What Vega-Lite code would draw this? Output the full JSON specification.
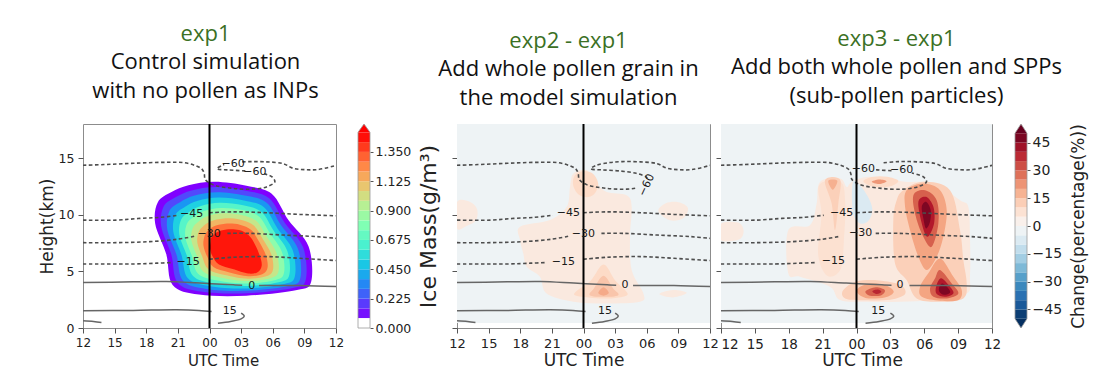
{
"$schema":"https://vega.github.io/schema/vega-lite/v6.json",
"background":"white",
"padding":{"left":37,"top":22,"right":5,"bottom":5},
"spacing":11,
"bounds":"flush",
"resolve":{"scale":{"color":"independent"}},
"config":{
 "view":{"stroke":"#8c8c8c","strokeWidth":1},
 "axis":{"domain":false,"grid":false,"tickColor":"#555","tickSize":5,"tickWidth":1,"labelColor":"#222","titleColor":"#222","labelFont":"DejaVu Sans","titleFont":"DejaVu Sans","titleFontWeight":"normal","labelPadding":4,"labelOverlap":false,"labelFlush":false},
 "title":{"font":"Open Sans","fontSize":22,"fontWeight":"normal","color":"#3b7024","subtitleFont":"Open Sans","subtitleFontSize":22,"subtitleColor":"#111","subtitleLineHeight":29,"subtitlePadding":6,"anchor":"middle"}
},
"datasets":{
"fill":[
{"p":"p1","g":"1a","o":1,"t":8.4,"h":12.0,"v":0.06},{"p":"p1","g":"1a","o":2,"t":10.0,"h":12.6,"v":0.06},{"p":"p1","g":"1a","o":3,"t":12.5,"h":12.9,"v":0.06},{"p":"p1","g":"1a","o":4,"t":15.5,"h":12.55,"v":0.06},{"p":"p1","g":"1a","o":5,"t":17.9,"h":11.85,"v":0.06},{"p":"p1","g":"1a","o":6,"t":19.5,"h":9.5,"v":0.06},{"p":"p1","g":"1a","o":7,"t":21.4,"h":7.2,"v":0.06},{"p":"p1","g":"1a","o":8,"t":21.65,"h":4.1,"v":0.06},{"p":"p1","g":"1a","o":9,"t":20.3,"h":3.35,"v":0.06},{"p":"p1","g":"1a","o":10,"t":15.5,"h":2.85,"v":0.06},{"p":"p1","g":"1a","o":11,"t":11.0,"h":2.95,"v":0.06},{"p":"p1","g":"1a","o":12,"t":8.5,"h":3.8,"v":0.06},{"p":"p1","g":"1a","o":13,"t":7.9,"h":6.5,"v":0.06},{"p":"p1","g":"1a","o":14,"t":6.85,"h":9.2,"v":0.06},{"p":"p1","g":"1a","o":15,"t":7.1,"h":11.1,"v":0.06},
{"p":"p1","g":"1b","o":1,"t":8.82,"h":11.56,"v":0.213},{"p":"p1","g":"1b","o":2,"t":10.3,"h":12.14,"v":0.213},{"p":"p1","g":"1b","o":3,"t":12.62,"h":12.44,"v":0.213},{"p":"p1","g":"1b","o":4,"t":15.42,"h":12.12,"v":0.213},{"p":"p1","g":"1b","o":5,"t":17.66,"h":11.45,"v":0.213},{"p":"p1","g":"1b","o":6,"t":19.15,"h":9.27,"v":0.213},{"p":"p1","g":"1b","o":7,"t":20.89,"h":7.1,"v":0.213},{"p":"p1","g":"1b","o":8,"t":21.13,"h":4.25,"v":0.213},{"p":"p1","g":"1b","o":9,"t":19.89,"h":3.53,"v":0.213},{"p":"p1","g":"1b","o":10,"t":15.52,"h":3.07,"v":0.213},{"p":"p1","g":"1b","o":11,"t":11.35,"h":3.2,"v":0.213},{"p":"p1","g":"1b","o":12,"t":8.98,"h":4.0,"v":0.213},{"p":"p1","g":"1b","o":13,"t":8.38,"h":6.48,"v":0.213},{"p":"p1","g":"1b","o":14,"t":7.42,"h":8.96,"v":0.213},{"p":"p1","g":"1b","o":15,"t":7.65,"h":10.72,"v":0.213},
{"p":"p1","g":"1c","o":1,"t":9.24,"h":11.12,"v":0.366},{"p":"p1","g":"1c","o":2,"t":10.59,"h":11.69,"v":0.366},{"p":"p1","g":"1c","o":3,"t":12.74,"h":11.98,"v":0.366},{"p":"p1","g":"1c","o":4,"t":15.35,"h":11.69,"v":0.366},{"p":"p1","g":"1c","o":5,"t":17.42,"h":11.05,"v":0.366},{"p":"p1","g":"1c","o":6,"t":18.8,"h":9.04,"v":0.366},{"p":"p1","g":"1c","o":7,"t":20.39,"h":7.0,"v":0.366},{"p":"p1","g":"1c","o":8,"t":20.62,"h":4.41,"v":0.366},{"p":"p1","g":"1c","o":9,"t":19.49,"h":3.7,"v":0.366},{"p":"p1","g":"1c","o":10,"t":15.54,"h":3.28,"v":0.366},{"p":"p1","g":"1c","o":11,"t":11.7,"h":3.45,"v":0.366},{"p":"p1","g":"1c","o":12,"t":9.47,"h":4.2,"v":0.366},{"p":"p1","g":"1c","o":13,"t":8.87,"h":6.46,"v":0.366},{"p":"p1","g":"1c","o":14,"t":7.99,"h":8.72,"v":0.366},{"p":"p1","g":"1c","o":15,"t":8.2,"h":10.33,"v":0.366},
{"p":"p1","g":"1d","o":1,"t":9.65,"h":10.68,"v":0.519},{"p":"p1","g":"1d","o":2,"t":10.89,"h":11.23,"v":0.519},{"p":"p1","g":"1d","o":3,"t":12.86,"h":11.51,"v":0.519},{"p":"p1","g":"1d","o":4,"t":15.27,"h":11.26,"v":0.519},{"p":"p1","g":"1d","o":5,"t":17.17,"h":10.65,"v":0.519},{"p":"p1","g":"1d","o":6,"t":18.44,"h":8.81,"v":0.519},{"p":"p1","g":"1d","o":7,"t":19.88,"h":6.9,"v":0.519},{"p":"p1","g":"1d","o":8,"t":20.1,"h":4.56,"v":0.519},{"p":"p1","g":"1d","o":9,"t":19.08,"h":3.88,"v":0.519},{"p":"p1","g":"1d","o":10,"t":15.57,"h":3.49,"v":0.519},{"p":"p1","g":"1d","o":11,"t":12.06,"h":3.69,"v":0.519},{"p":"p1","g":"1d","o":12,"t":9.95,"h":4.39,"v":0.519},{"p":"p1","g":"1d","o":13,"t":9.35,"h":6.43,"v":0.519},{"p":"p1","g":"1d","o":14,"t":8.57,"h":8.47,"v":0.519},{"p":"p1","g":"1d","o":15,"t":8.75,"h":9.95,"v":0.519},
{"p":"p1","g":"1e","o":1,"t":10.07,"h":10.24,"v":0.672},{"p":"p1","g":"1e","o":2,"t":11.19,"h":10.77,"v":0.672},{"p":"p1","g":"1e","o":3,"t":12.98,"h":11.05,"v":0.672},{"p":"p1","g":"1e","o":4,"t":15.19,"h":10.83,"v":0.672},{"p":"p1","g":"1e","o":5,"t":16.93,"h":10.24,"v":0.672},{"p":"p1","g":"1e","o":6,"t":18.09,"h":8.58,"v":0.672},{"p":"p1","g":"1e","o":7,"t":19.38,"h":6.8,"v":0.672},{"p":"p1","g":"1e","o":8,"t":19.58,"h":4.72,"v":0.672},{"p":"p1","g":"1e","o":9,"t":18.67,"h":4.05,"v":0.672},{"p":"p1","g":"1e","o":10,"t":15.59,"h":3.71,"v":0.672},{"p":"p1","g":"1e","o":11,"t":12.41,"h":3.94,"v":0.672},{"p":"p1","g":"1e","o":12,"t":10.44,"h":4.59,"v":0.672},{"p":"p1","g":"1e","o":13,"t":9.84,"h":6.41,"v":0.672},{"p":"p1","g":"1e","o":14,"t":9.14,"h":8.23,"v":0.672},{"p":"p1","g":"1e","o":15,"t":9.3,"h":9.56,"v":0.672},
{"p":"p1","g":"1f","o":1,"t":10.49,"h":9.8,"v":0.825},{"p":"p1","g":"1f","o":2,"t":11.49,"h":10.32,"v":0.825},{"p":"p1","g":"1f","o":3,"t":13.11,"h":10.59,"v":0.825},{"p":"p1","g":"1f","o":4,"t":15.12,"h":10.41,"v":0.825},{"p":"p1","g":"1f","o":5,"t":16.69,"h":9.84,"v":0.825},{"p":"p1","g":"1f","o":6,"t":17.74,"h":8.35,"v":0.825},{"p":"p1","g":"1f","o":7,"t":18.87,"h":6.71,"v":0.825},{"p":"p1","g":"1f","o":8,"t":19.07,"h":4.87,"v":0.825},{"p":"p1","g":"1f","o":9,"t":18.27,"h":4.23,"v":0.825},{"p":"p1","g":"1f","o":10,"t":15.61,"h":3.92,"v":0.825},{"p":"p1","g":"1f","o":11,"t":12.76,"h":4.19,"v":0.825},{"p":"p1","g":"1f","o":12,"t":10.92,"h":4.79,"v":0.825},{"p":"p1","g":"1f","o":13,"t":10.32,"h":6.39,"v":0.825},{"p":"p1","g":"1f","o":14,"t":9.71,"h":7.99,"v":0.825},{"p":"p1","g":"1f","o":15,"t":9.85,"h":9.18,"v":0.825},
{"p":"p1","g":"1g","o":1,"t":10.91,"h":9.36,"v":0.977},{"p":"p1","g":"1g","o":2,"t":11.78,"h":9.86,"v":0.977},{"p":"p1","g":"1g","o":3,"t":13.23,"h":10.13,"v":0.977},{"p":"p1","g":"1g","o":4,"t":15.04,"h":9.98,"v":0.977},{"p":"p1","g":"1g","o":5,"t":16.45,"h":9.44,"v":0.977},{"p":"p1","g":"1g","o":6,"t":17.39,"h":8.11,"v":0.977},{"p":"p1","g":"1g","o":7,"t":18.36,"h":6.61,"v":0.977},{"p":"p1","g":"1g","o":8,"t":18.55,"h":5.02,"v":0.977},{"p":"p1","g":"1g","o":9,"t":17.86,"h":4.41,"v":0.977},{"p":"p1","g":"1g","o":10,"t":15.63,"h":4.14,"v":0.977},{"p":"p1","g":"1g","o":11,"t":13.11,"h":4.44,"v":0.977},{"p":"p1","g":"1g","o":12,"t":11.4,"h":4.99,"v":0.977},{"p":"p1","g":"1g","o":13,"t":10.8,"h":6.37,"v":0.977},{"p":"p1","g":"1g","o":14,"t":10.28,"h":7.75,"v":0.977},{"p":"p1","g":"1g","o":15,"t":10.4,"h":8.79,"v":0.977},
{"p":"p1","g":"1h","o":1,"t":11.33,"h":8.92,"v":1.13},{"p":"p1","g":"1h","o":2,"t":12.08,"h":9.4,"v":1.13},{"p":"p1","g":"1h","o":3,"t":13.35,"h":9.67,"v":1.13},{"p":"p1","g":"1h","o":4,"t":14.96,"h":9.55,"v":1.13},{"p":"p1","g":"1h","o":5,"t":16.21,"h":9.04,"v":1.13},{"p":"p1","g":"1h","o":6,"t":17.04,"h":7.88,"v":1.13},{"p":"p1","g":"1h","o":7,"t":17.86,"h":6.51,"v":1.13},{"p":"p1","g":"1h","o":8,"t":18.03,"h":5.18,"v":1.13},{"p":"p1","g":"1h","o":9,"t":17.45,"h":4.58,"v":1.13},{"p":"p1","g":"1h","o":10,"t":15.65,"h":4.35,"v":1.13},{"p":"p1","g":"1h","o":11,"t":13.46,"h":4.68,"v":1.13},{"p":"p1","g":"1h","o":12,"t":11.89,"h":5.19,"v":1.13},{"p":"p1","g":"1h","o":13,"t":11.29,"h":6.35,"v":1.13},{"p":"p1","g":"1h","o":14,"t":10.85,"h":7.51,"v":1.13},{"p":"p1","g":"1h","o":15,"t":10.95,"h":8.41,"v":1.13},
{"p":"p1","g":"1i","o":1,"t":11.74,"h":8.48,"v":1.283},{"p":"p1","g":"1i","o":2,"t":12.38,"h":8.95,"v":1.283},{"p":"p1","g":"1i","o":3,"t":13.47,"h":9.2,"v":1.283},{"p":"p1","g":"1i","o":4,"t":14.88,"h":9.12,"v":1.283},{"p":"p1","g":"1i","o":5,"t":15.96,"h":8.64,"v":1.283},{"p":"p1","g":"1i","o":6,"t":16.68,"h":7.65,"v":1.283},{"p":"p1","g":"1i","o":7,"t":17.35,"h":6.41,"v":1.283},{"p":"p1","g":"1i","o":8,"t":17.51,"h":5.33,"v":1.283},{"p":"p1","g":"1i","o":9,"t":17.04,"h":4.76,"v":1.283},{"p":"p1","g":"1i","o":10,"t":15.68,"h":4.57,"v":1.283},{"p":"p1","g":"1i","o":11,"t":13.82,"h":4.93,"v":1.283},{"p":"p1","g":"1i","o":12,"t":12.37,"h":5.38,"v":1.283},{"p":"p1","g":"1i","o":13,"t":11.77,"h":6.32,"v":1.283},{"p":"p1","g":"1i","o":14,"t":11.43,"h":7.26,"v":1.283},{"p":"p1","g":"1i","o":15,"t":11.5,"h":8.02,"v":1.283},
{"p":"p1","g":"1j","o":1,"t":12.2,"h":8.0,"v":1.45},{"p":"p1","g":"1j","o":2,"t":12.7,"h":8.45,"v":1.45},{"p":"p1","g":"1j","o":3,"t":13.6,"h":8.7,"v":1.45},{"p":"p1","g":"1j","o":4,"t":14.8,"h":8.65,"v":1.45},{"p":"p1","g":"1j","o":5,"t":15.7,"h":8.2,"v":1.45},{"p":"p1","g":"1j","o":6,"t":16.3,"h":7.4,"v":1.45},{"p":"p1","g":"1j","o":7,"t":16.8,"h":6.3,"v":1.45},{"p":"p1","g":"1j","o":8,"t":16.95,"h":5.5,"v":1.45},{"p":"p1","g":"1j","o":9,"t":16.6,"h":4.95,"v":1.45},{"p":"p1","g":"1j","o":10,"t":15.7,"h":4.8,"v":1.45},{"p":"p1","g":"1j","o":11,"t":14.2,"h":5.2,"v":1.45},{"p":"p1","g":"1j","o":12,"t":12.9,"h":5.6,"v":1.45},{"p":"p1","g":"1j","o":13,"t":12.3,"h":6.3,"v":1.45},{"p":"p1","g":"1j","o":14,"t":12.05,"h":7.0,"v":1.45},{"p":"p1","g":"1j","o":15,"t":12.1,"h":7.6,"v":1.45},
{"p":"p2","g":"2a","o":1,"t":5.98,"h":8.93,"v":5},{"p":"p2","g":"2a","o":2,"t":8.82,"h":9.52,"v":5},{"p":"p2","g":"2a","o":3,"t":10.41,"h":10.69,"v":5},{"p":"p2","g":"2a","o":4,"t":10.72,"h":12.45,"v":5},{"p":"p2","g":"2a","o":5,"t":11.04,"h":13.63,"v":5},{"p":"p2","g":"2a","o":6,"t":12.3,"h":13.92,"v":5},{"p":"p2","g":"2a","o":7,"t":13.25,"h":12.75,"v":5},{"p":"p2","g":"2a","o":8,"t":14.2,"h":12.01,"v":5},{"p":"p2","g":"2a","o":9,"t":16.1,"h":11.72,"v":5},{"p":"p2","g":"2a","o":10,"t":16.57,"h":10.69,"v":5},{"p":"p2","g":"2a","o":11,"t":16.41,"h":8.05,"v":5},{"p":"p2","g":"2a","o":12,"t":16.57,"h":5.11,"v":5},{"p":"p2","g":"2a","o":13,"t":17.68,"h":3.05,"v":5},{"p":"p2","g":"2a","o":14,"t":17.36,"h":2.32,"v":5},{"p":"p2","g":"2a","o":15,"t":14.2,"h":2.17,"v":5},{"p":"p2","g":"2a","o":16,"t":11.04,"h":2.32,"v":5},{"p":"p2","g":"2a","o":17,"t":8.5,"h":3.05,"v":5},{"p":"p2","g":"2a","o":18,"t":7.87,"h":4.52,"v":5},{"p":"p2","g":"2a","o":19,"t":6.61,"h":5.4,"v":5},{"p":"p2","g":"2a","o":20,"t":6.29,"h":6.58,"v":5},{"p":"p2","g":"2a","o":21,"t":5.98,"h":7.75,"v":5},
{"p":"p2","g":"2b","o":1,"t":0,"h":11.1,"v":5},{"p":"p2","g":"2b","o":2,"t":1.2,"h":11.15,"v":5},{"p":"p2","g":"2b","o":3,"t":1.9,"h":10.5,"v":5},{"p":"p2","g":"2b","o":4,"t":1.8,"h":9.5,"v":5},{"p":"p2","g":"2b","o":5,"t":0.9,"h":9.0,"v":5},{"p":"p2","g":"2b","o":6,"t":0,"h":8.8,"v":5},
{"p":"p2","g":"2c","o":1,"t":19.1,"h":10.3,"v":5},{"p":"p2","g":"2c","o":2,"t":19.8,"h":11.0,"v":5},{"p":"p2","g":"2c","o":3,"t":21.0,"h":11.1,"v":5},{"p":"p2","g":"2c","o":4,"t":21.9,"h":10.6,"v":5},{"p":"p2","g":"2c","o":5,"t":21.5,"h":9.7,"v":5},{"p":"p2","g":"2c","o":6,"t":20.2,"h":9.5,"v":5},
{"p":"p2","g":"2d","o":1,"t":19.2,"h":3.0,"v":5},{"p":"p2","g":"2d","o":2,"t":20.5,"h":3.35,"v":5},{"p":"p2","g":"2d","o":3,"t":21.8,"h":3.1,"v":5},{"p":"p2","g":"2d","o":4,"t":20.5,"h":2.7,"v":5},
{"p":"p2","g":"2e","o":1,"t":11.2,"h":13.5,"v":10},{"p":"p2","g":"2e","o":2,"t":12.0,"h":13.85,"v":10},{"p":"p2","g":"2e","o":3,"t":12.9,"h":13.6,"v":10},{"p":"p2","g":"2e","o":4,"t":13.4,"h":12.7,"v":10},{"p":"p2","g":"2e","o":5,"t":13.0,"h":11.8,"v":10},{"p":"p2","g":"2e","o":6,"t":12.2,"h":11.55,"v":10},{"p":"p2","g":"2e","o":7,"t":11.4,"h":11.9,"v":10},{"p":"p2","g":"2e","o":8,"t":11.0,"h":12.7,"v":10},
{"p":"p2","g":"2f","o":1,"t":13.9,"h":5.6,"v":10},{"p":"p2","g":"2f","o":2,"t":15.0,"h":4.2,"v":10},{"p":"p2","g":"2f","o":3,"t":16.2,"h":3.0,"v":10},{"p":"p2","g":"2f","o":4,"t":15.0,"h":2.65,"v":10},{"p":"p2","g":"2f","o":5,"t":13.9,"h":2.6,"v":10},{"p":"p2","g":"2f","o":6,"t":12.5,"h":2.7,"v":10},{"p":"p2","g":"2f","o":7,"t":11.1,"h":3.0,"v":10},{"p":"p2","g":"2f","o":8,"t":12.7,"h":4.2,"v":10},
{"p":"p2","g":"2g","o":1,"t":13.9,"h":4.6,"v":14},{"p":"p2","g":"2g","o":2,"t":14.8,"h":3.5,"v":14},{"p":"p2","g":"2g","o":3,"t":15.3,"h":2.9,"v":14},{"p":"p2","g":"2g","o":4,"t":13.9,"h":2.75,"v":14},{"p":"p2","g":"2g","o":5,"t":12.6,"h":2.9,"v":14},{"p":"p2","g":"2g","o":6,"t":13.0,"h":3.5,"v":14},
{"p":"p2","g":"2h","o":1,"t":13.9,"h":3.6,"v":19},{"p":"p2","g":"2h","o":2,"t":14.4,"h":3.1,"v":19},{"p":"p2","g":"2h","o":3,"t":13.9,"h":2.85,"v":19},{"p":"p2","g":"2h","o":4,"t":13.4,"h":3.1,"v":19},
{"p":"p3","g":"3a","o":1,"t":5.96,"h":8.63,"v":5},{"p":"p3","g":"3a","o":2,"t":7.88,"h":9.07,"v":5},{"p":"p3","g":"3a","o":3,"t":8.47,"h":10.98,"v":5},{"p":"p3","g":"3a","o":4,"t":8.77,"h":12.89,"v":5},{"p":"p3","g":"3a","o":5,"t":10.54,"h":13.19,"v":5},{"p":"p3","g":"3a","o":6,"t":11.13,"h":12.45,"v":5},{"p":"p3","g":"3a","o":7,"t":11.57,"h":12.89,"v":5},{"p":"p3","g":"3a","o":8,"t":12.9,"h":13.33,"v":5},{"p":"p3","g":"3a","o":9,"t":14.67,"h":13.19,"v":5},{"p":"p3","g":"3a","o":10,"t":16.45,"h":12.89,"v":5},{"p":"p3","g":"3a","o":11,"t":18.81,"h":12.75,"v":5},{"p":"p3","g":"3a","o":12,"t":21.17,"h":11.28,"v":5},{"p":"p3","g":"3a","o":13,"t":21.9,"h":10.69,"v":5},{"p":"p3","g":"3a","o":14,"t":22.05,"h":8.05,"v":5},{"p":"p3","g":"3a","o":15,"t":22.05,"h":4.52,"v":5},{"p":"p3","g":"3a","o":16,"t":21.76,"h":3.05,"v":5},{"p":"p3","g":"3a","o":17,"t":18.81,"h":2.47,"v":5},{"p":"p3","g":"3a","o":18,"t":15.85,"h":2.32,"v":5},{"p":"p3","g":"3a","o":19,"t":12.9,"h":2.32,"v":5},{"p":"p3","g":"3a","o":20,"t":10.54,"h":2.47,"v":5},{"p":"p3","g":"3a","o":21,"t":9.65,"h":3.64,"v":5},{"p":"p3","g":"3a","o":22,"t":7.0,"h":4.52,"v":5},{"p":"p3","g":"3a","o":23,"t":5.96,"h":4.82,"v":5},
{"p":"p3","g":"3b","o":1,"t":0,"h":9.2,"v":5},{"p":"p3","g":"3b","o":2,"t":1.5,"h":9.3,"v":5},{"p":"p3","g":"3b","o":3,"t":2.0,"h":8.6,"v":5},{"p":"p3","g":"3b","o":4,"t":1.6,"h":7.8,"v":5},{"p":"p3","g":"3b","o":5,"t":0,"h":7.75,"v":5},
{"p":"p3","g":"3c","o":1,"t":8.7,"h":12.6,"v":8},{"p":"p3","g":"3c","o":2,"t":10.6,"h":12.9,"v":8},{"p":"p3","g":"3c","o":3,"t":11.0,"h":11.0,"v":8},{"p":"p3","g":"3c","o":4,"t":10.9,"h":8.0,"v":8},{"p":"p3","g":"3c","o":5,"t":10.6,"h":5.2,"v":8},{"p":"p3","g":"3c","o":6,"t":9.4,"h":4.6,"v":8},{"p":"p3","g":"3c","o":7,"t":8.6,"h":6.5,"v":8},{"p":"p3","g":"3c","o":8,"t":8.9,"h":10.0,"v":8},
{"p":"p3","g":"3d","o":1,"t":11.7,"h":12.9,"v":-7.5},{"p":"p3","g":"3d","o":2,"t":12.3,"h":12.6,"v":-7.5},{"p":"p3","g":"3d","o":3,"t":13.0,"h":11.6,"v":-7.5},{"p":"p3","g":"3d","o":4,"t":13.4,"h":10.5,"v":-7.5},{"p":"p3","g":"3d","o":5,"t":13.1,"h":9.5,"v":-7.5},{"p":"p3","g":"3d","o":6,"t":12.4,"h":9.2,"v":-7.5},{"p":"p3","g":"3d","o":7,"t":11.8,"h":9.8,"v":-7.5},{"p":"p3","g":"3d","o":8,"t":11.6,"h":11.2,"v":-7.5},
{"p":"p3","g":"3e","o":1,"t":9.21,"h":13.04,"v":12},{"p":"p3","g":"3e","o":2,"t":10.54,"h":13.1,"v":12},{"p":"p3","g":"3e","o":3,"t":10.39,"h":10.98,"v":12},{"p":"p3","g":"3e","o":4,"t":10.1,"h":8.63,"v":12},{"p":"p3","g":"3e","o":5,"t":9.8,"h":10.98,"v":12},
{"p":"p3","g":"3f","o":1,"t":9.5,"h":13.0,"v":18},{"p":"p3","g":"3f","o":2,"t":10.3,"h":13.0,"v":18},{"p":"p3","g":"3f","o":3,"t":9.9,"h":12.2,"v":18},
{"p":"p3","g":"3g","o":1,"t":12.6,"h":12.95,"v":10},{"p":"p3","g":"3g","o":2,"t":13.5,"h":13.35,"v":10},{"p":"p3","g":"3g","o":3,"t":14.7,"h":13.35,"v":10},{"p":"p3","g":"3g","o":4,"t":15.7,"h":13.0,"v":10},{"p":"p3","g":"3g","o":5,"t":15.0,"h":12.5,"v":10},{"p":"p3","g":"3g","o":6,"t":13.6,"h":12.45,"v":10},
{"p":"p3","g":"3h","o":1,"t":13.35,"h":12.9,"v":22},{"p":"p3","g":"3h","o":2,"t":14.0,"h":13.1,"v":22},{"p":"p3","g":"3h","o":3,"t":14.67,"h":12.95,"v":22},{"p":"p3","g":"3h","o":4,"t":14.0,"h":12.7,"v":22},
{"p":"p3","g":"3i","o":1,"t":16.15,"h":12.16,"v":12},{"p":"p3","g":"3i","o":2,"t":17.92,"h":12.9,"v":12},{"p":"p3","g":"3i","o":3,"t":20.28,"h":12.16,"v":12},{"p":"p3","g":"3i","o":4,"t":21.17,"h":8.63,"v":12},{"p":"p3","g":"3i","o":5,"t":21.46,"h":5.99,"v":12},{"p":"p3","g":"3i","o":6,"t":21.76,"h":3.93,"v":12},{"p":"p3","g":"3i","o":7,"t":21.46,"h":2.61,"v":12},{"p":"p3","g":"3i","o":8,"t":19.4,"h":2.32,"v":12},{"p":"p3","g":"3i","o":9,"t":17.33,"h":2.61,"v":12},{"p":"p3","g":"3i","o":10,"t":16.44,"h":4.23,"v":12},{"p":"p3","g":"3i","o":11,"t":15.41,"h":5.7,"v":12},{"p":"p3","g":"3i","o":12,"t":15.26,"h":9.52,"v":12},{"p":"p3","g":"3i","o":13,"t":15.56,"h":11.28,"v":12},
{"p":"p3","g":"3j","o":1,"t":16.44,"h":12.16,"v":20},{"p":"p3","g":"3j","o":2,"t":17.92,"h":12.75,"v":20},{"p":"p3","g":"3j","o":3,"t":19.4,"h":12.16,"v":20},{"p":"p3","g":"3j","o":4,"t":19.99,"h":10.4,"v":20},{"p":"p3","g":"3j","o":5,"t":19.69,"h":8.05,"v":20},{"p":"p3","g":"3j","o":6,"t":19.1,"h":6.28,"v":20},{"p":"p3","g":"3j","o":7,"t":18.22,"h":5.11,"v":20},{"p":"p3","g":"3j","o":8,"t":17.48,"h":6.28,"v":20},{"p":"p3","g":"3j","o":9,"t":16.74,"h":8.63,"v":20},{"p":"p3","g":"3j","o":10,"t":16.3,"h":10.69,"v":20},
{"p":"p3","g":"3k","o":1,"t":17.04,"h":11.72,"v":30},{"p":"p3","g":"3k","o":2,"t":18.07,"h":12.16,"v":30},{"p":"p3","g":"3k","o":3,"t":19.1,"h":11.28,"v":30},{"p":"p3","g":"3k","o":4,"t":19.25,"h":9.22,"v":30},{"p":"p3","g":"3k","o":5,"t":18.66,"h":7.17,"v":30},{"p":"p3","g":"3k","o":6,"t":17.92,"h":8.05,"v":30},{"p":"p3","g":"3k","o":7,"t":17.26,"h":9.81,"v":30},
{"p":"p3","g":"3l","o":1,"t":17.48,"h":11.13,"v":40},{"p":"p3","g":"3l","o":2,"t":18.16,"h":11.57,"v":40},{"p":"p3","g":"3l","o":3,"t":18.81,"h":10.69,"v":40},{"p":"p3","g":"3l","o":4,"t":18.87,"h":9.22,"v":40},{"p":"p3","g":"3l","o":5,"t":18.28,"h":8.05,"v":40},{"p":"p3","g":"3l","o":6,"t":17.78,"h":9.22,"v":40},
{"p":"p3","g":"3m","o":1,"t":17.78,"h":10.69,"v":47},{"p":"p3","g":"3m","o":2,"t":18.16,"h":11.13,"v":47},{"p":"p3","g":"3m","o":3,"t":18.57,"h":10.4,"v":47},{"p":"p3","g":"3m","o":4,"t":18.51,"h":9.37,"v":47},{"p":"p3","g":"3m","o":5,"t":18.16,"h":8.78,"v":47},{"p":"p3","g":"3m","o":6,"t":17.92,"h":9.66,"v":47},
{"p":"p3","g":"3n","o":1,"t":19.4,"h":6.14,"v":20},{"p":"p3","g":"3n","o":2,"t":20.58,"h":4.52,"v":20},{"p":"p3","g":"3n","o":3,"t":21.32,"h":3.35,"v":20},{"p":"p3","g":"3n","o":4,"t":21.02,"h":2.47,"v":20},{"p":"p3","g":"3n","o":5,"t":19.4,"h":2.41,"v":20},{"p":"p3","g":"3n","o":6,"t":17.78,"h":2.76,"v":20},{"p":"p3","g":"3n","o":7,"t":17.63,"h":3.64,"v":20},{"p":"p3","g":"3n","o":8,"t":18.36,"h":4.82,"v":20},
{"p":"p3","g":"3o","o":1,"t":19.4,"h":5.11,"v":30},{"p":"p3","g":"3o","o":2,"t":20.43,"h":3.93,"v":30},{"p":"p3","g":"3o","o":3,"t":21.02,"h":3.05,"v":30},{"p":"p3","g":"3o","o":4,"t":19.99,"h":2.61,"v":30},{"p":"p3","g":"3o","o":5,"t":18.81,"h":2.76,"v":30},{"p":"p3","g":"3o","o":6,"t":18.51,"h":3.49,"v":30},{"p":"p3","g":"3o","o":7,"t":18.96,"h":4.38,"v":30},
{"p":"p3","g":"3p","o":1,"t":19.49,"h":4.38,"v":40},{"p":"p3","g":"3p","o":2,"t":20.28,"h":3.64,"v":40},{"p":"p3","g":"3p","o":3,"t":20.58,"h":3.05,"v":40},{"p":"p3","g":"3p","o":4,"t":19.84,"h":2.76,"v":40},{"p":"p3","g":"3p","o":5,"t":19.1,"h":3.0,"v":40},{"p":"p3","g":"3p","o":6,"t":19.05,"h":3.64,"v":40},
{"p":"p3","g":"3q","o":1,"t":19.63,"h":3.93,"v":47},{"p":"p3","g":"3q","o":2,"t":20.14,"h":3.49,"v":47},{"p":"p3","g":"3q","o":3,"t":20.28,"h":3.11,"v":47},{"p":"p3","g":"3q","o":4,"t":19.75,"h":2.93,"v":47},{"p":"p3","g":"3q","o":5,"t":19.34,"h":3.2,"v":47},{"p":"p3","g":"3q","o":6,"t":19.34,"h":3.64,"v":47},
{"p":"p3","g":"3r","o":1,"t":10.8,"h":3.3,"v":12},{"p":"p3","g":"3r","o":2,"t":12.0,"h":4.1,"v":12},{"p":"p3","g":"3r","o":3,"t":14.0,"h":4.2,"v":12},{"p":"p3","g":"3r","o":4,"t":15.9,"h":3.8,"v":12},{"p":"p3","g":"3r","o":5,"t":16.3,"h":3.0,"v":12},{"p":"p3","g":"3r","o":6,"t":15.0,"h":2.5,"v":12},{"p":"p3","g":"3r","o":7,"t":12.5,"h":2.45,"v":12},{"p":"p3","g":"3r","o":8,"t":11.0,"h":2.6,"v":12},
{"p":"p3","g":"3s","o":1,"t":12.0,"h":3.3,"v":20},{"p":"p3","g":"3s","o":2,"t":13.0,"h":3.9,"v":20},{"p":"p3","g":"3s","o":3,"t":14.5,"h":3.8,"v":20},{"p":"p3","g":"3s","o":4,"t":15.3,"h":3.2,"v":20},{"p":"p3","g":"3s","o":5,"t":14.5,"h":2.7,"v":20},{"p":"p3","g":"3s","o":6,"t":12.8,"h":2.65,"v":20},
{"p":"p3","g":"3t","o":1,"t":12.8,"h":3.25,"v":30},{"p":"p3","g":"3t","o":2,"t":13.7,"h":3.6,"v":30},{"p":"p3","g":"3t","o":3,"t":14.5,"h":3.35,"v":30},{"p":"p3","g":"3t","o":4,"t":14.2,"h":2.9,"v":30},{"p":"p3","g":"3t","o":5,"t":13.2,"h":2.85,"v":30},
{"p":"p3","g":"3u","o":1,"t":13.4,"h":3.25,"v":38},{"p":"p3","g":"3u","o":2,"t":13.9,"h":3.4,"v":38},{"p":"p3","g":"3u","o":3,"t":14.2,"h":3.2,"v":38},{"p":"p3","g":"3u","o":4,"t":13.8,"h":3.0,"v":38}
],
"bg":[{"p":"p2","t0":0,"t1":24,"h0":0.45,"h1":18,"v":-2.5},{"p":"p3","t0":0,"t1":24,"h0":0.45,"h1":18,"v":-2.5}],
"iso":[
{"k":"m45a","p":"all","lv":-45,"o":1,"t":0,"h":9.52},{"k":"m45a","p":"all","lv":-45,"o":2,"t":3.17,"h":9.52},{"k":"m45a","p":"all","lv":-45,"o":3,"t":5.38,"h":9.67},{"k":"m45a","p":"all","lv":-45,"o":4,"t":7.28,"h":9.76},{"k":"m45a","p":"all","lv":-45,"o":5,"t":9.1,"h":9.95},
{"k":"m45b","p":"all","lv":-45,"o":1,"t":12.0,"h":10.17},{"k":"m45b","p":"all","lv":-45,"o":2,"t":14.25,"h":10.25},{"k":"m45b","p":"all","lv":-45,"o":3,"t":17.42,"h":10.17},{"k":"m45b","p":"all","lv":-45,"o":4,"t":20.58,"h":10.02},{"k":"m45b","p":"all","lv":-45,"o":5,"t":24,"h":9.9},
{"k":"m30a","p":"all","lv":-30,"o":1,"t":0,"h":7.53},{"k":"m30a","p":"all","lv":-30,"o":2,"t":3.17,"h":7.53},{"k":"m30a","p":"all","lv":-30,"o":3,"t":6.33,"h":7.62},{"k":"m30a","p":"all","lv":-30,"o":4,"t":8.87,"h":7.82},{"k":"m30a","p":"all","lv":-30,"o":5,"t":10.6,"h":8.1},
{"k":"m30b","p":"all","lv":-30,"o":1,"t":13.7,"h":8.35},{"k":"m30b","p":"all","lv":-30,"o":2,"t":15.83,"h":8.35},{"k":"m30b","p":"all","lv":-30,"o":3,"t":19,"h":8.2},{"k":"m30b","p":"all","lv":-30,"o":4,"t":22.2,"h":8.06},{"k":"m30b","p":"all","lv":-30,"o":5,"t":24,"h":7.91},
{"k":"m15a","p":"all","lv":-15,"o":1,"t":0,"h":5.65},{"k":"m15a","p":"all","lv":-15,"o":2,"t":4.75,"h":5.65},{"k":"m15a","p":"all","lv":-15,"o":3,"t":7.0,"h":5.72},{"k":"m15a","p":"all","lv":-15,"o":4,"t":8.5,"h":5.78},
{"k":"m15b","p":"all","lv":-15,"o":1,"t":12.0,"h":6.07},{"k":"m15b","p":"all","lv":-15,"o":2,"t":14.25,"h":6.24},{"k":"m15b","p":"all","lv":-15,"o":3,"t":17.42,"h":6.3},{"k":"m15b","p":"all","lv":-15,"o":4,"t":20.58,"h":6.15},{"k":"m15b","p":"all","lv":-15,"o":5,"t":24,"h":5.95},
{"k":"z0a","p":"all","lv":0,"o":1,"t":0,"h":4.01},{"k":"z0a","p":"all","lv":0,"o":2,"t":4.75,"h":4.07},{"k":"z0a","p":"all","lv":0,"o":3,"t":7.92,"h":4.1},{"k":"z0a","p":"all","lv":0,"o":4,"t":11.08,"h":3.96},{"k":"z0a","p":"all","lv":0,"o":5,"t":14.25,"h":3.81},{"k":"z0a","p":"all","lv":0,"o":6,"t":15.1,"h":3.78},
{"k":"z0b","p":"all","lv":0,"o":1,"t":16.7,"h":3.75},{"k":"z0b","p":"all","lv":0,"o":2,"t":20.58,"h":3.75},{"k":"z0b","p":"all","lv":0,"o":3,"t":24,"h":3.66},
{"k":"p15a","p":"all","lv":15,"o":1,"t":0,"h":1.52},{"k":"p15a","p":"all","lv":15,"o":2,"t":4.75,"h":1.55},{"k":"p15a","p":"all","lv":15,"o":3,"t":8.87,"h":1.61},{"k":"p15a","p":"all","lv":15,"o":4,"t":11.0,"h":1.55},{"k":"p15a","p":"all","lv":15,"o":5,"t":12.2,"h":1.45},
{"k":"p15b","p":"all","lv":15,"o":1,"t":15.0,"h":1.32},{"k":"p15b","p":"all","lv":15,"o":2,"t":15.3,"h":1.05},{"k":"p15b","p":"all","lv":15,"o":3,"t":15.0,"h":0.8},{"k":"p15b","p":"all","lv":15,"o":4,"t":14.0,"h":0.58},{"k":"p15b","p":"all","lv":15,"o":5,"t":12.8,"h":0.42},
{"k":"p15c","p":"all","lv":15,"o":1,"t":0,"h":0.64},{"k":"p15c","p":"all","lv":15,"o":2,"t":1.0,"h":0.58},{"k":"p15c","p":"all","lv":15,"o":3,"t":1.75,"h":0.48},
{"k":"n1a","p":"p1","lv":-60,"o":1,"t":0,"h":14.36},{"k":"n1a","p":"p1","lv":-60,"o":2,"t":2,"h":14.42},{"k":"n1a","p":"p1","lv":-60,"o":3,"t":4,"h":14.5},{"k":"n1a","p":"p1","lv":-60,"o":4,"t":6,"h":14.58},{"k":"n1a","p":"p1","lv":-60,"o":5,"t":8,"h":14.62},{"k":"n1a","p":"p1","lv":-60,"o":6,"t":9.5,"h":14.6},{"k":"n1a","p":"p1","lv":-60,"o":7,"t":10.6,"h":14.35},{"k":"n1a","p":"p1","lv":-60,"o":8,"t":11.3,"h":14.0},{"k":"n1a","p":"p1","lv":-60,"o":9,"t":11.5,"h":13.6},{"k":"n1a","p":"p1","lv":-60,"o":10,"t":11.6,"h":13.1},{"k":"n1a","p":"p1","lv":-60,"o":11,"t":12.3,"h":12.65},{"k":"n1a","p":"p1","lv":-60,"o":12,"t":14.2,"h":12.32},{"k":"n1a","p":"p1","lv":-60,"o":13,"t":16.1,"h":12.25},{"k":"n1a","p":"p1","lv":-60,"o":14,"t":17.4,"h":12.45},{"k":"n1a","p":"p1","lv":-60,"o":15,"t":18.2,"h":12.9},{"k":"n1a","p":"p1","lv":-60,"o":16,"t":17.9,"h":13.35},{"k":"n1a","p":"p1","lv":-60,"o":17,"t":17.2,"h":13.6},
{"k":"n1b","p":"p1","lv":-60,"o":1,"t":15.4,"h":13.86},{"k":"n1b","p":"p1","lv":-60,"o":2,"t":13.8,"h":13.95},{"k":"n1b","p":"p1","lv":-60,"o":3,"t":12.7,"h":14.05},{"k":"n1b","p":"p1","lv":-60,"o":4,"t":13.2,"h":14.35},{"k":"n1b","p":"p1","lv":-60,"o":5,"t":13.4,"h":14.42},
{"k":"n1c","p":"p1","lv":-60,"o":1,"t":15.1,"h":14.66},{"k":"n1c","p":"p1","lv":-60,"o":2,"t":15.7,"h":14.68},{"k":"n1c","p":"p1","lv":-60,"o":3,"t":17.4,"h":14.66},{"k":"n1c","p":"p1","lv":-60,"o":4,"t":19.0,"h":14.5},{"k":"n1c","p":"p1","lv":-60,"o":5,"t":19.9,"h":14.1},{"k":"n1c","p":"p1","lv":-60,"o":6,"t":21.0,"h":13.97},{"k":"n1c","p":"p1","lv":-60,"o":7,"t":22.3,"h":13.98},{"k":"n1c","p":"p1","lv":-60,"o":8,"t":24,"h":14.35},
{"k":"n2a","p":"p2","lv":-60,"o":1,"t":0,"h":14.36},{"k":"n2a","p":"p2","lv":-60,"o":2,"t":2,"h":14.42},{"k":"n2a","p":"p2","lv":-60,"o":3,"t":4,"h":14.5},{"k":"n2a","p":"p2","lv":-60,"o":4,"t":6,"h":14.58},{"k":"n2a","p":"p2","lv":-60,"o":5,"t":8,"h":14.62},{"k":"n2a","p":"p2","lv":-60,"o":6,"t":9.5,"h":14.6},{"k":"n2a","p":"p2","lv":-60,"o":7,"t":10.6,"h":14.35},{"k":"n2a","p":"p2","lv":-60,"o":8,"t":11.3,"h":14.0},{"k":"n2a","p":"p2","lv":-60,"o":9,"t":11.5,"h":13.6},{"k":"n2a","p":"p2","lv":-60,"o":10,"t":11.6,"h":13.1},{"k":"n2a","p":"p2","lv":-60,"o":11,"t":12.3,"h":12.65},{"k":"n2a","p":"p2","lv":-60,"o":12,"t":14.2,"h":12.32},{"k":"n2a","p":"p2","lv":-60,"o":13,"t":16.1,"h":12.25},{"k":"n2a","p":"p2","lv":-60,"o":14,"t":16.9,"h":12.33},
{"k":"n2b","p":"p2","lv":-60,"o":1,"t":18.05,"h":13.2},{"k":"n2b","p":"p2","lv":-60,"o":2,"t":17.9,"h":13.35},{"k":"n2b","p":"p2","lv":-60,"o":3,"t":17.0,"h":13.65},{"k":"n2b","p":"p2","lv":-60,"o":4,"t":15.5,"h":13.85},{"k":"n2b","p":"p2","lv":-60,"o":5,"t":13.8,"h":13.95},{"k":"n2b","p":"p2","lv":-60,"o":6,"t":12.7,"h":14.05},{"k":"n2b","p":"p2","lv":-60,"o":7,"t":13.2,"h":14.35},{"k":"n2b","p":"p2","lv":-60,"o":8,"t":14.5,"h":14.6},{"k":"n2b","p":"p2","lv":-60,"o":9,"t":15.7,"h":14.68},{"k":"n2b","p":"p2","lv":-60,"o":10,"t":17.4,"h":14.66},{"k":"n2b","p":"p2","lv":-60,"o":11,"t":19.0,"h":14.5},{"k":"n2b","p":"p2","lv":-60,"o":12,"t":19.9,"h":14.1},{"k":"n2b","p":"p2","lv":-60,"o":13,"t":21.0,"h":13.97},{"k":"n2b","p":"p2","lv":-60,"o":14,"t":22.3,"h":13.98},{"k":"n2b","p":"p2","lv":-60,"o":15,"t":24,"h":14.35},
{"k":"n3a","p":"p3","lv":-60,"o":1,"t":0,"h":14.36},{"k":"n3a","p":"p3","lv":-60,"o":2,"t":2,"h":14.42},{"k":"n3a","p":"p3","lv":-60,"o":3,"t":4,"h":14.5},{"k":"n3a","p":"p3","lv":-60,"o":4,"t":6,"h":14.58},{"k":"n3a","p":"p3","lv":-60,"o":5,"t":8,"h":14.62},{"k":"n3a","p":"p3","lv":-60,"o":6,"t":9.5,"h":14.6},{"k":"n3a","p":"p3","lv":-60,"o":7,"t":10.6,"h":14.35},{"k":"n3a","p":"p3","lv":-60,"o":8,"t":11.3,"h":14.0},{"k":"n3a","p":"p3","lv":-60,"o":9,"t":11.5,"h":13.6},{"k":"n3a","p":"p3","lv":-60,"o":10,"t":11.6,"h":13.1},{"k":"n3a","p":"p3","lv":-60,"o":11,"t":12.3,"h":12.65},{"k":"n3a","p":"p3","lv":-60,"o":12,"t":14.2,"h":12.32},{"k":"n3a","p":"p3","lv":-60,"o":13,"t":16.1,"h":12.25},{"k":"n3a","p":"p3","lv":-60,"o":14,"t":17.4,"h":12.45},{"k":"n3a","p":"p3","lv":-60,"o":15,"t":18.2,"h":12.9},{"k":"n3a","p":"p3","lv":-60,"o":16,"t":17.9,"h":13.35},{"k":"n3a","p":"p3","lv":-60,"o":17,"t":16.9,"h":13.67},
{"k":"n3b","p":"p3","lv":-60,"o":1,"t":15.1,"h":13.88},{"k":"n3b","p":"p3","lv":-60,"o":2,"t":14.0,"h":13.94},{"k":"n3b","p":"p3","lv":-60,"o":3,"t":13.5,"h":13.98},
{"k":"n3c","p":"p3","lv":-60,"o":1,"t":14.4,"h":14.58},{"k":"n3c","p":"p3","lv":-60,"o":2,"t":15.7,"h":14.68},{"k":"n3c","p":"p3","lv":-60,"o":3,"t":17.4,"h":14.66},{"k":"n3c","p":"p3","lv":-60,"o":4,"t":19.0,"h":14.5},{"k":"n3c","p":"p3","lv":-60,"o":5,"t":19.9,"h":14.1},{"k":"n3c","p":"p3","lv":-60,"o":6,"t":21.0,"h":13.97},{"k":"n3c","p":"p3","lv":-60,"o":7,"t":22.3,"h":13.98},{"k":"n3c","p":"p3","lv":-60,"o":8,"t":24,"h":14.35}
],
"lab":[
{"p":"p1","t":14.25,"h":14.5,"s":"−60"},{"p":"p1","t":16.3,"h":13.77,"s":"−60"},{"p":"p1","t":10.3,"h":10.05,"s":"−45"},{"p":"p1","t":11.97,"h":8.29,"s":"−30"},{"p":"p1","t":9.97,"h":5.86,"s":"−15"},{"p":"p1","t":16.0,"h":3.75,"s":"0"},{"p":"p1","t":13.93,"h":1.52,"s":"15"},
{"p":"p2","t":18.0,"h":12.6,"s":"−60"},{"p":"p2","t":10.56,"h":10.16,"s":"−45"},{"p":"p2","t":11.98,"h":8.28,"s":"−30"},{"p":"p2","t":10.09,"h":5.84,"s":"−15"},{"p":"p2","t":15.94,"h":3.79,"s":"0"},{"p":"p2","t":14.04,"h":1.5,"s":"15"},
{"p":"p3","t":12.6,"h":14.07,"s":"−60"},{"p":"p3","t":16.0,"h":13.92,"s":"−60"},{"p":"p3","t":10.69,"h":10.16,"s":"−45"},{"p":"p3","t":12.37,"h":8.34,"s":"−30"},{"p":"p3","t":9.95,"h":5.93,"s":"−15"},{"p":"p3","t":15.85,"h":3.79,"s":"0"},{"p":"p3","t":13.93,"h":1.5,"s":"15"}
],
"cb1":[
{"lo":0.075,"hi":0.15,"v":0.1125},{"lo":0.15,"hi":0.225,"v":0.1875},{"lo":0.225,"hi":0.3,"v":0.2625},{"lo":0.3,"hi":0.375,"v":0.3375},{"lo":0.375,"hi":0.45,"v":0.4125},{"lo":0.45,"hi":0.525,"v":0.4875},{"lo":0.525,"hi":0.6,"v":0.5625},{"lo":0.6,"hi":0.675,"v":0.6375},{"lo":0.675,"hi":0.75,"v":0.7125},{"lo":0.75,"hi":0.825,"v":0.7875},{"lo":0.825,"hi":0.9,"v":0.8625},{"lo":0.9,"hi":0.975,"v":0.9375},{"lo":0.975,"hi":1.05,"v":1.0125},{"lo":1.05,"hi":1.125,"v":1.0875},{"lo":1.125,"hi":1.2,"v":1.1625},{"lo":1.2,"hi":1.275,"v":1.2375},{"lo":1.275,"hi":1.35,"v":1.3125},{"lo":1.35,"hi":1.425,"v":1.3875},{"lo":1.425,"hi":1.5,"v":1.4625}
],
"cb1w":[{"lo":0,"hi":0.075}],
"cb1a":[{"o":1,"x":0,"y":1.5,"v":1.6},{"o":2,"x":1,"y":1.5,"v":1.6},{"o":3,"x":0.5,"y":1.564,"v":1.6}],
"cb1o":[{"o":1,"x":0,"y":0},{"o":2,"x":1,"y":0},{"o":3,"x":1,"y":1.5},{"o":4,"x":0.5,"y":1.564},{"o":5,"x":0,"y":1.5}],
"cb2":[
{"lo":-50,"hi":-45,"v":-47.5},{"lo":-45,"hi":-40,"v":-42.5},{"lo":-40,"hi":-35,"v":-37.5},{"lo":-35,"hi":-30,"v":-32.5},{"lo":-30,"hi":-25,"v":-27.5},{"lo":-25,"hi":-20,"v":-22.5},{"lo":-20,"hi":-15,"v":-17.5},{"lo":-15,"hi":-10,"v":-12.5},{"lo":-10,"hi":-5,"v":-7.5},{"lo":-5,"hi":0,"v":-2.5},{"lo":0,"hi":5,"v":2.5},{"lo":5,"hi":10,"v":7.5},{"lo":10,"hi":15,"v":12.5},{"lo":15,"hi":20,"v":17.5},{"lo":20,"hi":25,"v":22.5},{"lo":25,"hi":30,"v":27.5},{"lo":30,"hi":35,"v":32.5},{"lo":35,"hi":40,"v":37.5},{"lo":40,"hi":45,"v":42.5},{"lo":45,"hi":50,"v":47.5}
],
"cb2a":[{"g":"top","o":1,"x":0,"y":50,"v":55},{"g":"top","o":2,"x":1,"y":50,"v":55},{"g":"top","o":3,"x":0.5,"y":55,"v":55},{"g":"bot","o":1,"x":0,"y":-50,"v":-55},{"g":"bot","o":2,"x":1,"y":-50,"v":-55},{"g":"bot","o":3,"x":0.5,"y":-55,"v":-55}],
"cb2o":[{"o":1,"x":0,"y":-50},{"o":2,"x":0.5,"y":-55},{"o":3,"x":1,"y":-50},{"o":4,"x":1,"y":50},{"o":5,"x":0.5,"y":55},{"o":6,"x":0,"y":50}]
},
"hconcat":[
{
 "width":253,"height":204,
 "title":{"text":"exp1","subtitle":["Control simulation","with no pollen as INPs"],"dx":-4,"offset":20},
 "layer":[
  {"data":{"name":"fill"},"transform":[{"filter":"datum.p=='p1'"}],
   "mark":{"type":"line","filled":true,"interpolate":"cardinal-closed","strokeWidth":0,"clip":true},
   "encoding":{
    "x":{"field":"t","type":"quantitative","scale":{"domain":[0,24],"nice":false,"zero":false},"axis":{"values":[0,3,6,9,12,15,18,21,24],"tickCount":30,"labelExpr":"['12','15','18','21','00','03','06','09','12'][datum.value/3]","labelOverlap":false,"labelFlush":false,"title":"UTC Time","labelFontSize":12,"titleFontSize":15,"titlePadding":5,"titleX":140}},
    "y":{"field":"h","type":"quantitative","scale":{"domain":[0,18],"nice":false,"zero":false},"axis":{"values":[0,5,10,15],"format":"d","labelOverlap":false,"title":"Height(km)","labelFontSize":12.5,"titleFontSize":17,"titlePadding":2}},
    "detail":{"field":"g"},
    "order":{"field":"o","type":"quantitative"},
    "color":{"field":"v","type":"quantitative","legend":null,"scale":{"type":"linear","domain":[0.084,0.2246,0.3652,0.5058,0.6464,0.787,0.9276,1.0682,1.2088,1.3494,1.49],"range":["#8000ff","#4d4ffc","#1a96f2","#1acee3","#4df3ce","#80ffb4","#b3f396","#e6ce74","#ff964f","#ff4f28","#ff0000"],"clamp":true,"interpolate":"rgb"}}
   }},
  {"data":{"name":"iso"},"transform":[{"filter":"(datum.p=='all'||datum.p=='p1')&&datum.lv<0"}],
   "mark":{"type":"line","interpolate":"catmull-rom","color":"#4d4d4d","strokeWidth":1.6,"strokeDash":[3.5,2.5],"clip":true},
   "encoding":{"x":{"field":"t","type":"quantitative"},"y":{"field":"h","type":"quantitative"},"detail":{"field":"k"},"order":{"field":"o","type":"quantitative"}}},
  {"data":{"name":"iso"},"transform":[{"filter":"(datum.p=='all'||datum.p=='p1')&&datum.lv>=0"}],
   "mark":{"type":"line","interpolate":"catmull-rom","color":"#666666","strokeWidth":1.5,"clip":true},
   "encoding":{"x":{"field":"t","type":"quantitative"},"y":{"field":"h","type":"quantitative"},"detail":{"field":"k"},"order":{"field":"o","type":"quantitative"}}},
  {"data":{"values":[{}]},"mark":{"type":"rule","color":"#000000","strokeWidth":2},"encoding":{"x":{"datum":12,"type":"quantitative"}}},
  {"data":{"name":"lab"},"transform":[{"filter":"datum.p=='p1'"}],
   "mark":{"type":"text","font":"DejaVu Sans","fontSize":11,"color":"#1a1a1a"},
   "encoding":{"x":{"field":"t","type":"quantitative"},"y":{"field":"h","type":"quantitative"},"text":{"field":"s"}}}
 ]
},
{
 "width":99,"height":204,"view":{"stroke":null},
 "layer":[
  {"data":{"name":"cb1"},"mark":{"type":"rect"},
   "encoding":{
    "x":{"datum":0,"type":"quantitative","scale":{"domain":[-0.9167,7.3333],"nice":false,"zero":false},"axis":null},
    "x2":{"datum":1},
    "y":{"field":"lo","type":"quantitative","scale":{"domain":[0,1.564],"nice":false,"zero":false},"axis":{"orient":"right","offset":-76,"values":[0,0.225,0.45,0.675,0.9,1.125,1.35],"tickCount":30,"format":".3f","labelOverlap":false,"labelFontSize":12.5,"tickSize":3,"labelPadding":2,"title":"Ice Mass(g/m³)","titleFontSize":22,"titleAngle":270,"titleBaseline":"top","titlePadding":8}},
    "y2":{"field":"hi"},
    "color":{"field":"v","type":"quantitative","legend":null,"scale":{"type":"linear","domain":[0.084,0.2246,0.3652,0.5058,0.6464,0.787,0.9276,1.0682,1.2088,1.3494,1.49],"range":["#8000ff","#4d4ffc","#1a96f2","#1acee3","#4df3ce","#80ffb4","#b3f396","#e6ce74","#ff964f","#ff4f28","#ff0000"],"clamp":true,"interpolate":"rgb"}}
   }},
  {"data":{"name":"cb1w"},"mark":{"type":"rect","fill":"white"},
   "encoding":{"x":{"datum":0,"type":"quantitative"},"x2":{"datum":1},"y":{"field":"lo","type":"quantitative"},"y2":{"field":"hi"}}},
  {"data":{"name":"cb1a"},"mark":{"type":"line","filled":true,"interpolate":"linear-closed","strokeWidth":0},
   "encoding":{"x":{"field":"x","type":"quantitative"},"y":{"field":"y","type":"quantitative"},"order":{"field":"o","type":"quantitative"},
    "color":{"field":"v","type":"quantitative","legend":null,"scale":{"type":"linear","domain":[0.084,0.2246,0.3652,0.5058,0.6464,0.787,0.9276,1.0682,1.2088,1.3494,1.49],"range":["#8000ff","#4d4ffc","#1a96f2","#1acee3","#4df3ce","#80ffb4","#b3f396","#e6ce74","#ff964f","#ff4f28","#ff0000"],"clamp":true,"interpolate":"rgb"}}}},
  {"data":{"name":"cb1o"},"mark":{"type":"line","interpolate":"linear-closed","color":"#999999","strokeWidth":0.8},
   "encoding":{"x":{"field":"x","type":"quantitative"},"y":{"field":"y","type":"quantitative"},"order":{"field":"o","type":"quantitative"}}}
 ]
},
{
 "width":253,"height":204,
 "title":{"text":"exp2 - exp1","subtitle":["Add whole pollen grain in","the model simulation"],"dx":-15,"offset":13},
 "layer":[
  {"data":{"name":"bg"},"transform":[{"filter":"datum.p=='p2'"}],"mark":{"type":"rect"},
   "encoding":{
    "x":{"field":"t0","type":"quantitative","scale":{"domain":[0,24],"nice":false,"zero":false},"axis":{"values":[0,3,6,9,12,15,18,21,24],"tickCount":30,"labelExpr":"['12','15','18','21','00','03','06','09','12'][datum.value/3]","labelOverlap":false,"labelFlush":false,"title":"UTC Time","labelFontSize":13,"titleFontSize":17,"titlePadding":2}},
    "x2":{"field":"t1"},
    "y":{"field":"h0","type":"quantitative","scale":{"domain":[0,18],"nice":false,"zero":false},"axis":{"values":[0,5,10,15],"labels":false,"title":null}},
    "y2":{"field":"h1"},
    "color":{"field":"v","type":"quantitative","legend":null,"scale":{"type":"linear","domain":[-50,-40,-30,-20,-10,0,10,20,30,40,50],"range":["#053061","#2166ac","#4393c3","#92c5de","#d1e5f0","#f7f7f7","#fddbc7","#f4a582","#d6604d","#b2182b","#67001f"],"clamp":true,"interpolate":"rgb"}}
   }},
  {"data":{"name":"fill"},"transform":[{"filter":"datum.p=='p2'"}],
   "mark":{"type":"line","filled":true,"interpolate":"cardinal-closed","strokeWidth":0,"clip":true},
   "encoding":{
    "x":{"field":"t","type":"quantitative"},
    "y":{"field":"h","type":"quantitative"},
    "detail":{"field":"g"},
    "order":{"field":"o","type":"quantitative"},
    "color":{"field":"v","type":"quantitative","legend":null,"scale":{"type":"linear","domain":[-50,-40,-30,-20,-10,0,10,20,30,40,50],"range":["#053061","#2166ac","#4393c3","#92c5de","#d1e5f0","#f7f7f7","#fddbc7","#f4a582","#d6604d","#b2182b","#67001f"],"clamp":true,"interpolate":"rgb"}}
   }},
  {"data":{"name":"iso"},"transform":[{"filter":"(datum.p=='all'||datum.p=='p2')&&datum.lv<0"}],
   "mark":{"type":"line","interpolate":"catmull-rom","color":"#4d4d4d","strokeWidth":1.6,"strokeDash":[3.5,2.5],"clip":true},
   "encoding":{"x":{"field":"t","type":"quantitative"},"y":{"field":"h","type":"quantitative"},"detail":{"field":"k"},"order":{"field":"o","type":"quantitative"}}},
  {"data":{"name":"iso"},"transform":[{"filter":"(datum.p=='all'||datum.p=='p2')&&datum.lv>=0"}],
   "mark":{"type":"line","interpolate":"catmull-rom","color":"#666666","strokeWidth":1.5,"clip":true},
   "encoding":{"x":{"field":"t","type":"quantitative"},"y":{"field":"h","type":"quantitative"},"detail":{"field":"k"},"order":{"field":"o","type":"quantitative"}}},
  {"data":{"values":[{}]},"mark":{"type":"rule","color":"#000000","strokeWidth":2},"encoding":{"x":{"datum":12,"type":"quantitative"}}},
  {"data":{"name":"lab"},"transform":[{"filter":"datum.p=='p2'&&datum.h<12"}],
   "mark":{"type":"text","font":"DejaVu Sans","fontSize":11,"color":"#1a1a1a"},
   "encoding":{"x":{"field":"t","type":"quantitative"},"y":{"field":"h","type":"quantitative"},"text":{"field":"s"}}},
  {"data":{"name":"lab"},"transform":[{"filter":"datum.p=='p2'&&datum.h>12"}],
   "mark":{"type":"text","font":"DejaVu Sans","fontSize":11,"color":"#1a1a1a","angle":295},
   "encoding":{"x":{"field":"t","type":"quantitative"},"y":{"field":"h","type":"quantitative"},"text":{"field":"s"}}}
 ]
},
{
 "width":271,"height":204,
 "title":{"text":"exp3 - exp1","subtitle":["Add both whole pollen and SPPs","(sub-pollen particles)"],"dx":40,"offset":15},
 "layer":[
  {"data":{"name":"bg"},"transform":[{"filter":"datum.p=='p3'"}],"mark":{"type":"rect"},
   "encoding":{
    "x":{"field":"t0","type":"quantitative","scale":{"domain":[0,24],"nice":false,"zero":false},"axis":{"values":[0,3,6,9,12,15,18,21,24],"tickCount":30,"labelExpr":"['12','15','18','21','00','03','06','09','12'][datum.value/3]","labelOverlap":false,"labelFlush":false,"labelAlign":{"condition":{"test":"datum.value==0","value":"left"},"value":"center"},"title":"UTC Time","labelFontSize":13.5,"titleFontSize":17,"titlePadding":2,"titleX":141}},
    "x2":{"field":"t1"},
    "y":{"field":"h0","type":"quantitative","scale":{"domain":[0,18],"nice":false,"zero":false},"axis":{"values":[0,5,10,15],"labels":false,"title":null}},
    "y2":{"field":"h1"},
    "color":{"field":"v","type":"quantitative","legend":null,"scale":{"type":"linear","domain":[-50,-40,-30,-20,-10,0,10,20,30,40,50],"range":["#053061","#2166ac","#4393c3","#92c5de","#d1e5f0","#f7f7f7","#fddbc7","#f4a582","#d6604d","#b2182b","#67001f"],"clamp":true,"interpolate":"rgb"}}
   }},
  {"data":{"name":"fill"},"transform":[{"filter":"datum.p=='p3'"}],
   "mark":{"type":"line","filled":true,"interpolate":"cardinal-closed","strokeWidth":0,"clip":true},
   "encoding":{
    "x":{"field":"t","type":"quantitative"},
    "y":{"field":"h","type":"quantitative"},
    "detail":{"field":"g"},
    "order":{"field":"o","type":"quantitative"},
    "color":{"field":"v","type":"quantitative","legend":null,"scale":{"type":"linear","domain":[-50,-40,-30,-20,-10,0,10,20,30,40,50],"range":["#053061","#2166ac","#4393c3","#92c5de","#d1e5f0","#f7f7f7","#fddbc7","#f4a582","#d6604d","#b2182b","#67001f"],"clamp":true,"interpolate":"rgb"}}
   }},
  {"data":{"name":"iso"},"transform":[{"filter":"(datum.p=='all'||datum.p=='p3')&&datum.lv<0"}],
   "mark":{"type":"line","interpolate":"catmull-rom","color":"#4d4d4d","strokeWidth":1.6,"strokeDash":[3.5,2.5],"clip":true},
   "encoding":{"x":{"field":"t","type":"quantitative"},"y":{"field":"h","type":"quantitative"},"detail":{"field":"k"},"order":{"field":"o","type":"quantitative"}}},
  {"data":{"name":"iso"},"transform":[{"filter":"(datum.p=='all'||datum.p=='p3')&&datum.lv>=0"}],
   "mark":{"type":"line","interpolate":"catmull-rom","color":"#666666","strokeWidth":1.5,"clip":true},
   "encoding":{"x":{"field":"t","type":"quantitative"},"y":{"field":"h","type":"quantitative"},"detail":{"field":"k"},"order":{"field":"o","type":"quantitative"}}},
  {"data":{"values":[{}]},"mark":{"type":"rule","color":"#000000","strokeWidth":2},"encoding":{"x":{"datum":12,"type":"quantitative"}}},
  {"data":{"name":"lab"},"transform":[{"filter":"datum.p=='p3'"}],
   "mark":{"type":"text","font":"DejaVu Sans","fontSize":11,"color":"#1a1a1a"},
   "encoding":{"x":{"field":"t","type":"quantitative"},"y":{"field":"h","type":"quantitative"},"text":{"field":"s"}}}
 ]
},
{
 "width":24,"height":204,"view":{"stroke":null},
 "layer":[
  {"data":{"name":"cb2"},"mark":{"type":"rect"},
   "encoding":{
    "x":{"datum":0,"type":"quantitative","scale":{"domain":[-1,1],"nice":false,"zero":false},"axis":null},
    "x2":{"datum":1},
    "y":{"field":"lo","type":"quantitative","scale":{"domain":[-55,55],"nice":false,"zero":false},"axis":{"orient":"right","values":[-45,-30,-15,0,15,30,45],"tickCount":30,"labelExpr":"replace(format(datum.value,'d'),'-','−')","labelOverlap":false,"labelFontSize":14,"tickSize":3,"labelPadding":2,"title":"Change(percentage(%))","titleFontSize":17,"titleAngle":270,"titleBaseline":"top","titlePadding":9}},
    "y2":{"field":"hi"},
    "color":{"field":"v","type":"quantitative","legend":null,"scale":{"type":"linear","domain":[-50,-40,-30,-20,-10,0,10,20,30,40,50],"range":["#053061","#2166ac","#4393c3","#92c5de","#d1e5f0","#f7f7f7","#fddbc7","#f4a582","#d6604d","#b2182b","#67001f"],"clamp":true,"interpolate":"rgb"}}
   }},
  {"data":{"name":"cb2a"},"mark":{"type":"line","filled":true,"interpolate":"linear-closed","strokeWidth":0},
   "encoding":{"x":{"field":"x","type":"quantitative"},"y":{"field":"y","type":"quantitative"},"detail":{"field":"g"},"order":{"field":"o","type":"quantitative"},
    "color":{"field":"v","type":"quantitative","legend":null,"scale":{"type":"linear","domain":[-50,-40,-30,-20,-10,0,10,20,30,40,50],"range":["#053061","#2166ac","#4393c3","#92c5de","#d1e5f0","#f7f7f7","#fddbc7","#f4a582","#d6604d","#b2182b","#67001f"],"clamp":true,"interpolate":"rgb"}}}},
  {"data":{"name":"cb2o"},"mark":{"type":"line","interpolate":"linear-closed","color":"#999999","strokeWidth":0.8},
   "encoding":{"x":{"field":"x","type":"quantitative"},"y":{"field":"y","type":"quantitative"},"order":{"field":"o","type":"quantitative"}}}
 ]
}
]
}
